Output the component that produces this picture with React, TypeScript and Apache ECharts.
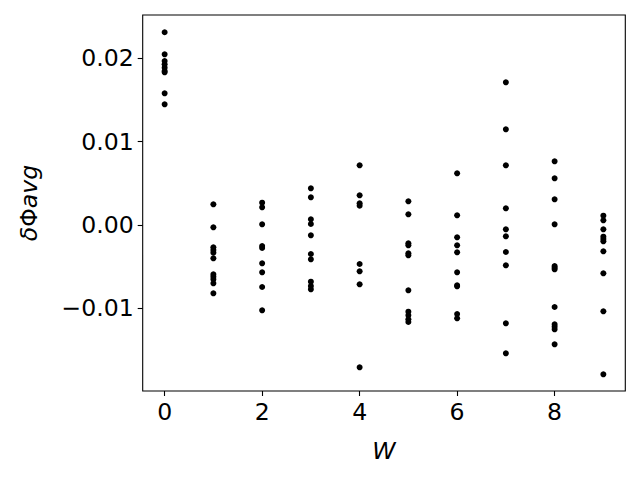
import React, { useEffect, useRef } from "react";
import * as echarts from "echarts";

const wValues = [0, 1, 2, 3, 4, 5, 6, 7, 8, 9];
const phi0 = [0.02313, 0.02048, 0.01968, 0.01929, 0.01888, 0.01848, 0.01832, 0.0158, 0.01448];
const phi1 = [0.00248, -0.00028, -0.00268, -0.003, -0.00332, -0.004, -0.00592, -0.0062, -0.00652, -0.007, -0.0082];
const phi2 = [0.00268, 0.00212, 0.00008, -0.00252, -0.00276, -0.0046, -0.00568, -0.00744, -0.01024];
const phi3 = [0.0044, 0.00332, 0.00068, 0.00012, -0.00124, -0.00348, -0.00412, -0.0068, -0.00732, -0.00772];
const phi4 = [0.00716, 0.00356, 0.0026, 0.00232, -0.00468, -0.00556, -0.00712, -0.01708];
const phi5 = [0.00284, 0.00128, -0.0022, -0.00244, -0.0034, -0.00364, -0.00784, -0.0104, -0.01084, -0.01132, -0.01164];
const phi6 = [0.0062, 0.00116, -0.00148, -0.00244, -0.00328, -0.00568, -0.00724, -0.00736, -0.01068, -0.0112];
const phi7 = [0.01712, 0.01148, 0.00716, 0.002, -0.00052, -0.00136, -0.00324, -0.00484, -0.0118, -0.0154];
const phi8 = [0.00764, 0.0056, 0.00308, 0.00008, -0.00492, -0.00512, -0.00532, -0.00984, -0.01192, -0.0122, -0.01252, -0.01432];
const phi9 = [0.00112, 0.00056, -0.00052, -0.0014, -0.00168, -0.00196, -0.00316, -0.0058, -0.01036, -0.01792];
const phiByW = [phi0, phi1, phi2, phi3, phi4, phi5, phi6, phi7, phi8, phi9];

const xTicks = [0, 2, 4, 6, 8];
const yTicks = [-0.01, 0, 0.01, 0.02];

export default function App() {
  const ref = useRef<HTMLDivElement>(null);
  useEffect(() => {
    if (!ref.current) return;
    const chart = echarts.init(ref.current, undefined, { renderer: "svg" });
    const points: number[][] = [];
    wValues.forEach((w, i) => phiByW[i].forEach((v) => points.push([w, v])));
    const font = "DejaVu Sans";
    const fs = 23.6;
    chart.setOption({
      animation: false,
      backgroundColor: "#fff",
      grid: {
        left: 142.7,
        top: 15,
        width: 482.6,
        height: 376,
        show: true,
        borderColor: "#000",
        borderWidth: 1.1,
        backgroundColor: "transparent",
      },
      xAxis: {
        type: "value",
        min: -0.45,
        max: 9.45,
        name: "W",
        nameLocation: "middle",
        nameGap: 48,
        nameTextStyle: { fontFamily: font, fontSize: fs, fontStyle: "italic", color: "#000" },
        splitLine: { show: false },
        axisLine: { show: false, onZero: false },
        axisTick: { show: true, inside: false, length: 5, lineStyle: { color: "#000", width: 1.1 }, customValues: xTicks },
        axisLabel: {
          fontFamily: font,
          fontSize: fs,
          color: "#000",
          margin: 9,
          customValues: xTicks,
          formatter: (v: number) => String(v),
        },
      },
      yAxis: {
        type: "value",
        min: -0.01992,
        max: 0.0252,
        name: "{d|δ}{p|Φ}{d|avg}",
        nameLocation: "middle",
        nameRotate: 90,
        nameGap: 102,
        nameTextStyle: {
          fontFamily: font,
          fontSize: fs,
          color: "#000",
          rich: {
            d: { fontFamily: font, fontSize: fs, fontStyle: "italic", color: "#000" },
            p: { fontFamily: font, fontSize: fs, color: "#000" },
          },
        },
        splitLine: { show: false },
        axisLine: { show: false, onZero: false },
        axisTick: { show: true, inside: false, length: 5, lineStyle: { color: "#000", width: 1.1 }, customValues: yTicks },
        axisLabel: {
          fontFamily: font,
          fontSize: fs,
          color: "#000",
          margin: 9,
          customValues: yTicks,
          formatter: (v: number) => v.toFixed(2).replace("-", "\u2212"),
        },
      },
      series: [
        {
          type: "scatter",
          data: points,
          symbol: "circle",
          symbolSize: 6,
          itemStyle: { color: "#000", opacity: 1 },
        },
      ],
    });
    return () => chart.dispose();
  }, []);
  return <div ref={ref} style={{ width: 640, height: 480, position: "absolute", left: 0, top: 0 }} />;
}
